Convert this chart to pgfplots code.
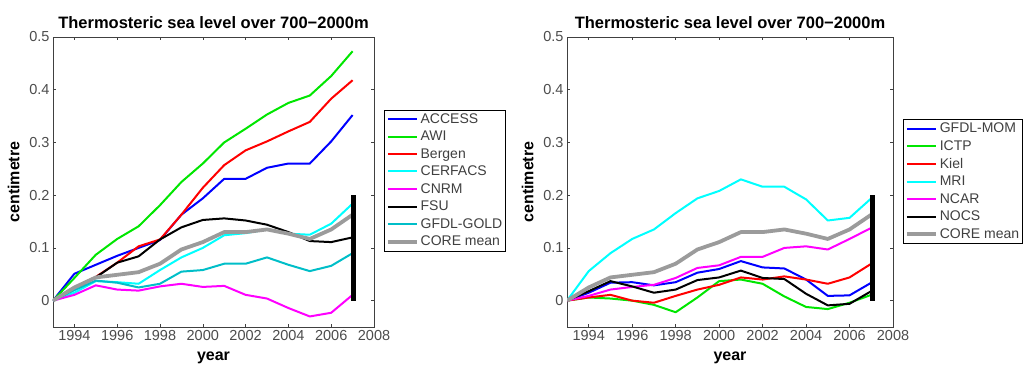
\documentclass[border=0pt]{standalone}
\usepackage{pgfplots}
\pgfplotsset{compat=1.18}
\usepackage{fontspec}
\setmainfont{Liberation Sans}
\definecolor{mblue}{RGB}{0,0,255}
\definecolor{mgreen}{RGB}{0,230,0}
\definecolor{mred}{RGB}{255,0,0}
\definecolor{mcyan}{RGB}{0,255,255}
\definecolor{mmag}{RGB}{255,0,255}
\definecolor{mgold}{RGB}{0,190,200}
\definecolor{mgray}{RGB}{155,155,155}
\pgfplotsset{
  mystyle/.style={
    scale only axis, height=290pt,
    xmin=1993, xmax=2008, ymin=-0.05, ymax=0.5,
    xtick={1994,1996,...,2008}, ytick={0,0.1,...,0.5},
    yticklabels={0,0.1,0.2,0.3,0.4,0.5},
    x tick label style={/pgf/number format/1000 sep={}},
    /pgf/number format/assume math mode=true,
    tick label style={font=\fontsize{14.5}{16}\selectfont, text=black!70},
    axis line style={black!75, line width=0.8pt},
    tick style={black!75, line width=0.6pt},
    major tick length=3pt,
    title style={font=\bfseries\fontsize{16.5}{19}\selectfont, yshift=-1pt},
    title={Thermosteric sea level over 700−2000m},
    xlabel={year}, ylabel={centimetre},
    label style={font=\bfseries\fontsize{16}{18}\selectfont},
    xlabel style={yshift=-4pt},
    ylabel style={yshift=3pt},
    legend cell align=left,
    legend style={font=\fontsize{14}{16}\selectfont, text=black!75, draw=black, line width=0.8pt, anchor=north west,
      inner sep=1.5pt, row sep=2.3pt, /tikz/every even column/.append style={column sep=0pt}},
    legend image code/.code={\draw[#1] (0pt,0pt) -- (29pt,0pt);},
    every axis plot/.append style={line width=2pt, line join=round},
  }
}
\begin{document}
\begin{tikzpicture}
\begin{axis}[mystyle, width=321pt, at={(0pt,0pt)}, anchor=south west,
  legend style={at={(1.031,0.75)}}]
\addplot[mblue] coordinates {(1993,0) (1994,0.051) (1995,0.068) (1996,0.085) (1997,0.10) (1998,0.115) (1999,0.163) (2000,0.194) (2001,0.231) (2002,0.231) (2003,0.252) (2004,0.26) (2005,0.26) (2006,0.302) (2007,0.352)};
\addlegendentry{ACCESS}
\addplot[mgreen] coordinates {(1993,0) (1994,0.043) (1995,0.087) (1996,0.117) (1997,0.141) (1998,0.181) (1999,0.225) (2000,0.26) (2001,0.30) (2002,0.326) (2003,0.353) (2004,0.375) (2005,0.389) (2006,0.426) (2007,0.473)};
\addlegendentry{AWI}
\addplot[mred] coordinates {(1993,0) (1994,0.025) (1995,0.045) (1996,0.072) (1997,0.103) (1998,0.116) (1999,0.163) (2000,0.214) (2001,0.257) (2002,0.285) (2003,0.302) (2004,0.321) (2005,0.339) (2006,0.383) (2007,0.418)};
\addlegendentry{Bergen}
\addplot[mcyan] coordinates {(1993,0) (1994,0.015) (1995,0.037) (1996,0.035) (1997,0.032) (1998,0.058) (1999,0.082) (2000,0.10) (2001,0.124) (2002,0.128) (2003,0.135) (2004,0.127) (2005,0.125) (2006,0.146) (2007,0.184)};
\addlegendentry{CERFACS}
\addplot[mmag] coordinates {(1993,0) (1994,0.011) (1995,0.029) (1996,0.021) (1997,0.019) (1998,0.027) (1999,0.032) (2000,0.026) (2001,0.028) (2002,0.011) (2003,0.004) (2004,-0.014) (2005,-0.03) (2006,-0.023) (2007,0.011)};
\addlegendentry{CNRM}
\addplot[black] coordinates {(1993,0) (1994,0.022) (1995,0.044) (1996,0.072) (1997,0.084) (1998,0.116) (1999,0.139) (2000,0.153) (2001,0.156) (2002,0.152) (2003,0.144) (2004,0.13) (2005,0.113) (2006,0.111) (2007,0.12)};
\addlegendentry{FSU}
\addplot[mgold] coordinates {(1993,0) (1994,0.02) (1995,0.038) (1996,0.034) (1997,0.025) (1998,0.032) (1999,0.055) (2000,0.058) (2001,0.07) (2002,0.07) (2003,0.082) (2004,0.068) (2005,0.056) (2006,0.066) (2007,0.09)};
\addlegendentry{GFDL-GOLD}
\addplot[mgray, line width=3.8pt] coordinates {(1993,0) (1994,0.025) (1995,0.044) (1996,0.049) (1997,0.054) (1998,0.07) (1999,0.097) (2000,0.111) (2001,0.13) (2002,0.13) (2003,0.135) (2004,0.127) (2005,0.117) (2006,0.135) (2007,0.163)};
\addlegendentry{CORE mean}
\addplot[black, line width=4.5pt, line cap=butt, forget plot] coordinates {(2007.05,0) (2007.05,0.2)};
\end{axis}
\begin{axis}[mystyle, width=326pt, at={(514pt,0pt)}, anchor=south west,
  legend style={at={(1.031,0.717)}}]
\addplot[mblue] coordinates {(1993,0) (1994,0.015) (1995,0.034) (1996,0.035) (1997,0.029) (1998,0.035) (1999,0.053) (2000,0.06) (2001,0.075) (2002,0.063) (2003,0.061) (2004,0.04) (2005,0.009) (2006,0.01) (2007,0.034)};
\addlegendentry{GFDL-MOM}
\addplot[mgreen] coordinates {(1993,0) (1994,0.006) (1995,0.004) (1996,0.0) (1997,-0.008) (1998,-0.022) (1999,0.006) (2000,0.037) (2001,0.04) (2002,0.032) (2003,0.008) (2004,-0.012) (2005,-0.016) (2006,-0.004) (2007,0.011)};
\addlegendentry{ICTP}
\addplot[mred] coordinates {(1993,0) (1994,0.006) (1995,0.011) (1996,0.0) (1997,-0.004) (1998,0.009) (1999,0.021) (2000,0.03) (2001,0.044) (2002,0.04) (2003,0.046) (2004,0.04) (2005,0.032) (2006,0.044) (2007,0.07)};
\addlegendentry{Kiel}
\addplot[mcyan] coordinates {(1993,0) (1994,0.056) (1995,0.09) (1996,0.117) (1997,0.135) (1998,0.166) (1999,0.194) (2000,0.208) (2001,0.23) (2002,0.216) (2003,0.216) (2004,0.192) (2005,0.152) (2006,0.157) (2007,0.194)};
\addlegendentry{MRI}
\addplot[mmag] coordinates {(1993,0) (1994,0.009) (1995,0.021) (1996,0.026) (1997,0.03) (1998,0.043) (1999,0.062) (2000,0.067) (2001,0.083) (2002,0.083) (2003,0.10) (2004,0.103) (2005,0.097) (2006,0.117) (2007,0.138)};
\addlegendentry{NCAR}
\addplot[black] coordinates {(1993,0) (1994,0.018) (1995,0.037) (1996,0.027) (1997,0.015) (1998,0.021) (1999,0.039) (2000,0.044) (2001,0.057) (2002,0.043) (2003,0.041) (2004,0.013) (2005,-0.009) (2006,-0.006) (2007,0.018)};
\addlegendentry{NOCS}
\addplot[mgray, line width=3.8pt] coordinates {(1993,0) (1994,0.025) (1995,0.044) (1996,0.049) (1997,0.054) (1998,0.07) (1999,0.097) (2000,0.111) (2001,0.13) (2002,0.13) (2003,0.135) (2004,0.127) (2005,0.117) (2006,0.135) (2007,0.163)};
\addlegendentry{CORE mean}
\addplot[black, line width=4.5pt, line cap=butt, forget plot] coordinates {(2007.05,0) (2007.05,0.2)};
\end{axis}
\pgfresetboundingbox
\useasboundingbox (-53pt,-43pt) rectangle (977pt,327pt);
\end{tikzpicture}
\end{document}
